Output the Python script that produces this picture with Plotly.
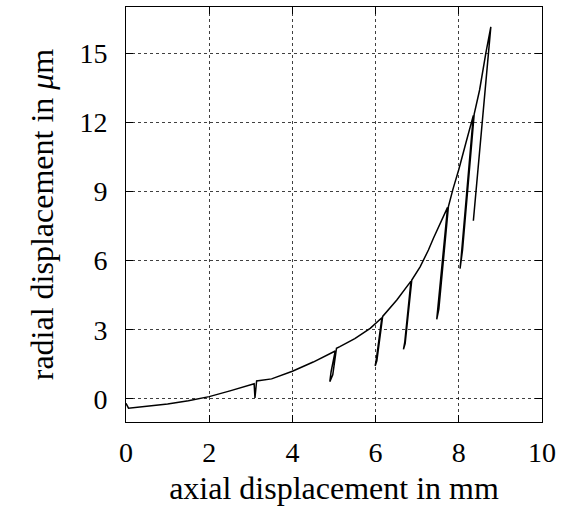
import plotly.graph_objects as go

# path of the measured curve (loading with unloading cycles)
axial_mm = [0.00, 0.06, 0.50, 1.00, 1.50, 2.00, 2.50, 2.90, 3.08, 3.10, 3.14,
            3.50, 4.00, 4.50, 5.03, 4.93, 4.90, 4.97, 5.06, 5.14, 5.50, 5.87,
            6.15, 6.02, 5.99, 6.03, 6.17, 6.51, 6.85, 6.70, 6.67, 6.71, 6.87,
            7.07, 7.27, 7.39, 7.73, 7.50, 7.47, 7.52, 7.75, 7.86, 8.00, 8.17,
            8.35, 8.05, 8.03, 8.09, 8.37, 8.50, 8.65, 8.77, 8.35]
radial_um = [-0.19, -0.40, -0.32, -0.22, -0.08, 0.10, 0.35, 0.56, 0.66, 0.04, 0.78,
             0.87, 1.20, 1.60, 2.08, 1.18, 0.75, 1.05, 2.20, 2.27, 2.62, 3.06,
             3.52, 1.75, 1.43, 1.65, 3.58, 4.29, 5.11, 2.45, 2.15, 2.40, 5.16,
             5.73, 6.46, 6.97, 8.31, 3.80, 3.45, 3.90, 8.34, 9.10, 9.95, 11.10,
             12.30, 6.00, 5.65, 6.46, 12.35, 13.40, 15.00, 16.14, 7.73]

x_ticks = [0, 2, 4, 6, 8, 10]
y_ticks = [0, 3, 6, 9, 12, 15]

fig = go.Figure()
fig.add_trace(go.Scatter(x=axial_mm, y=radial_um, mode="lines",
                         line=dict(color="black", width=1.5), showlegend=False))

font_family = "Liberation Serif"
axis_common = dict(
    showline=True, linecolor="black", linewidth=1, mirror="allticks",
    ticks="inside", ticklen=7, tickcolor="black", tickwidth=1,
    showgrid=True, gridcolor="rgba(0,0,0,0.75)", griddash="dot", gridwidth=1,
    zeroline=False, tickfont=dict(family=font_family, size=28, color="black"),
)

fig.update_layout(
    width=566, height=514,
    margin=dict(l=126, r=24, t=7, b=92, autoexpand=False),
    paper_bgcolor="white", plot_bgcolor="white",
    font=dict(family=font_family, color="black"),
    xaxis=dict(range=[0, 10], tickvals=x_ticks, ticktext=[str(v) for v in x_ticks],
               ticklabelstandoff=5,
               title=dict(text="axial displacement in mm", font=dict(size=32), standoff=10),
               **axis_common),
    yaxis=dict(range=[-1, 17], tickvals=y_ticks, ticktext=[str(v) for v in y_ticks],
               ticklabelstandoff=12,
               title=dict(text="radial displacement in <i>μ</i>m", font=dict(size=32), standoff=16),
               **axis_common),
)

fig.write_html("out.html", config={"displayModeBar": False},
               post_script="document.body.style.margin='0';document.body.style.padding='0';")
